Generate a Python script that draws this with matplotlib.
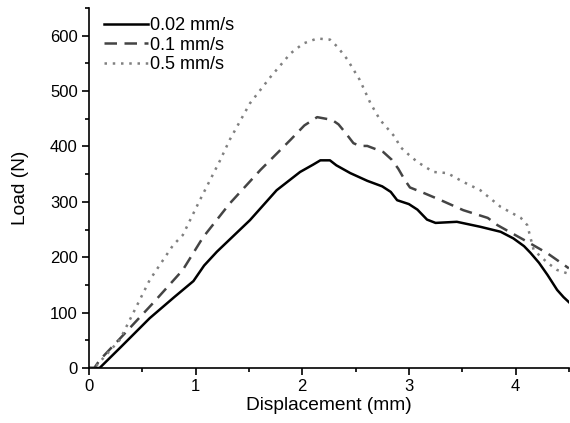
import matplotlib
matplotlib.use("Agg")
import matplotlib.pyplot as plt
from matplotlib.ticker import MultipleLocator

plt.rcParams['font.family'] = ['Liberation Sans', 'DejaVu Sans']

# 0.02 mm/s
x1 = [0.0, 0.1, 0.3, 0.57, 0.80, 0.98, 1.08, 1.20, 1.51, 1.76, 1.98, 2.10, 2.17, 2.26, 2.32,
      2.45, 2.61, 2.75, 2.83, 2.89, 3.00, 3.08, 3.17, 3.25, 3.45, 3.67, 3.86, 3.98, 4.08,
      4.14, 4.22, 4.30, 4.39, 4.45, 4.5]
y1 = [0, 0, 38, 90, 128, 157, 185, 210, 267, 321, 354, 367, 375, 375, 366,
      352, 338, 328, 318, 303, 296, 286, 268, 262, 264, 255, 246, 234, 220,
      208, 190, 168, 141, 128, 119]

# 0.1 mm/s
x2 = [0.0, 0.05, 0.1, 0.30, 0.60, 0.88, 1.07, 1.32, 1.61, 1.89, 2.02, 2.14, 2.28, 2.34,
      2.40, 2.48, 2.54, 2.61, 2.76, 2.84, 2.90, 2.96, 3.01, 3.14, 3.30, 3.51, 3.74, 3.83,
      3.97, 4.11, 4.30, 4.5]
y2 = [0, 0, 14, 55, 117, 177, 236, 297, 358, 412, 438, 453, 448, 440,
      426, 406, 401, 401, 390, 376, 360, 340, 326, 316, 303, 285, 271, 258,
      243, 228, 207, 180]

# 0.5 mm/s
x3 = [0.0, 0.05, 0.29, 0.57, 0.79, 0.88, 1.04, 1.23, 1.32, 1.51, 1.70, 1.89, 2.01, 2.14,
      2.26, 2.33, 2.42, 2.54, 2.64, 2.73, 2.87, 2.92, 3.00, 3.08, 3.23, 3.36, 3.51, 3.67,
      3.86, 4.05, 4.11, 4.17, 4.30, 4.39, 4.5]
y3 = [0, 0, 51, 159, 222, 240, 303, 375, 412, 478, 525, 568, 586, 595,
      593, 580, 558, 520, 478, 448, 417, 399, 385, 372, 354, 352, 336, 321,
      291, 271, 258, 213, 190, 177, 170]

labels = ['0.02 mm/s', '0.1 mm/s', '0.5 mm/s']

fig = plt.figure(figsize=(5.70, 4.23), dpi=100)
ax = fig.add_axes([0.156, 0.130, 0.842, 0.851])

ax.plot(x1, y1, color='black', lw=1.8, linestyle='-', label=labels[0])
ax.plot(x2, y2, color='#444444', lw=1.8, linestyle=(0, (5, 3)), label=labels[1])
ax.plot(x3, y3, color='#808080', lw=1.8, linestyle=(0, (1, 2.3)), label=labels[2])

ax.set_xlim(0, 4.5)
ax.set_ylim(0, 650)
ax.xaxis.set_major_locator(MultipleLocator(1))
ax.xaxis.set_minor_locator(MultipleLocator(0.5))
ax.yaxis.set_major_locator(MultipleLocator(100))
ax.yaxis.set_minor_locator(MultipleLocator(50))
ax.tick_params(which='major', direction='out', length=5, width=1.2, labelsize=12, pad=3)
ax.tick_params(which='minor', direction='out', length=3, width=1.2)
for s in ['top', 'right']:
    ax.spines[s].set_visible(False)
for s in ['left', 'bottom']:
    ax.spines[s].set_linewidth(1.2)

ax.set_xlabel('Displacement (mm)', fontsize=13.8, labelpad=2)
ax.set_ylabel('Load (N)', fontsize=13.8)
ax.yaxis.set_label_coords(-0.125, 0.5)

ax.legend(loc='upper left', frameon=False, fontsize=13, handlelength=2.4,
          borderaxespad=0.1, labelspacing=0.15, handletextpad=0.15,
          bbox_to_anchor=(0.013, 1.0))

fig.savefig('out.png', dpi=100)
